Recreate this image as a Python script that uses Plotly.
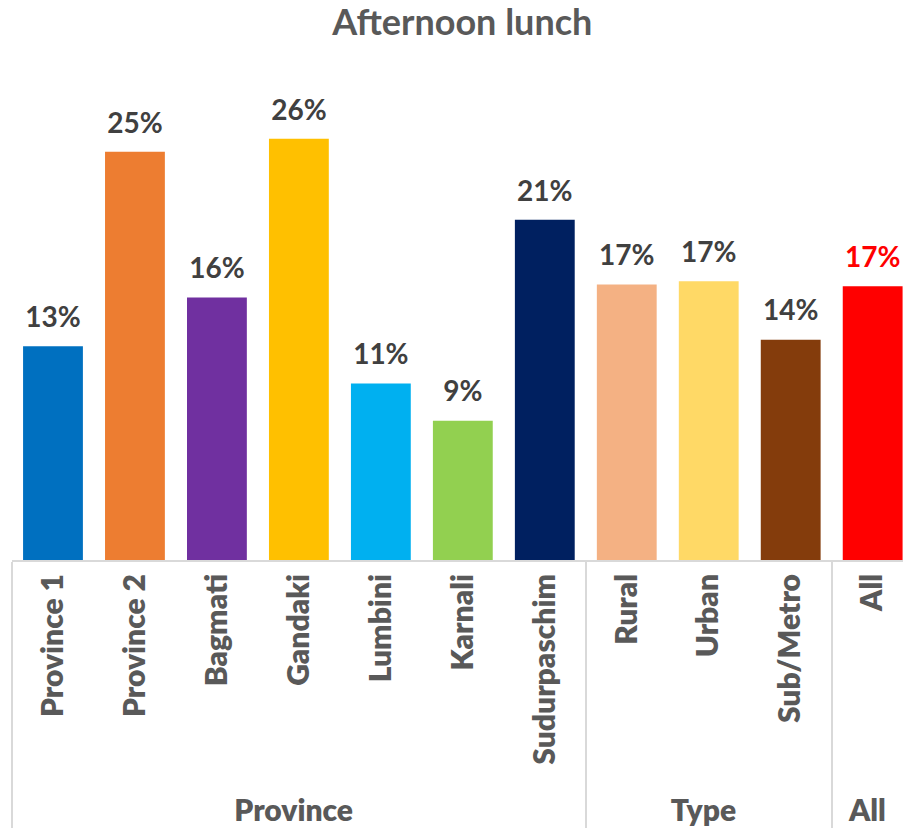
import plotly.graph_objects as go

# Share of respondents eating an afternoon lunch (%)
groups = ["Province"] * 7 + ["Type"] * 3 + ["All"]
categories = ["Province 1", "Province 2", "Bagmati", "Gandaki", "Lumbini",
              "Karnali", "Sudurpaschim", "Rural", "Urban", "Sub/Metro", "All"]
values = [13.2, 25.2, 16.2, 26.0, 10.9, 8.6, 21.0, 17.0, 17.2, 13.6, 16.9]
colors = ["#0070C0", "#ED7D31", "#7030A0", "#FFC000", "#00B0F0", "#92D050",
          "#002060", "#F4B183", "#FFD966", "#843C0C", "#FF0000"]
label_colors = ["#404040"] * 10 + ["#FF0000"]

FONT = "Lato"
GRAY = "#595959"

x = [groups, categories]

fig = go.Figure()

fig.add_trace(
    go.Bar(
        x=x,
        y=values,
        marker=dict(color=colors, line=dict(width=0)),
        width=0.73,
        hoverinfo="skip",
    )
)

# Value labels floated above each bar (invisible marker sets the gap)
fig.add_trace(
    go.Scatter(
        x=x,
        y=values,
        mode="markers+text",
        marker=dict(size=18, opacity=0),
        text=[f"{v:.0f}%" for v in values],
        textposition="top center",
        textfont=dict(family=FONT, size=28, color=label_colors, weight="bold"),
        cliponaxis=False,
        hoverinfo="skip",
    )
)

fig.update_layout(
    width=903,
    height=832,
    margin=dict(l=12, r=0, t=80, b=272),
    paper_bgcolor="white",
    plot_bgcolor="white",
    showlegend=False,
    title=dict(
        text="Afternoon lunch",
        font=dict(family=FONT, size=36, color=GRAY, weight="bold"),
        x=0.512, xanchor="center",
        y=1 - 22 / 832, yanchor="middle",
    ),
    xaxis=dict(
        type="multicategory",
        range=[-0.5, 10.37],
        tickangle=-90,
        tickfont=dict(family=FONT, size=30, color=GRAY, weight=800),
        showline=True,
        linecolor="#D9D9D9",
        linewidth=2,
        showdividers=True,
        dividercolor="#D9D9D9",
        dividerwidth=2,
        ticks="outside",
        ticklen=8,
        tickcolor="rgba(0,0,0,0)",
        showgrid=False,
    ),
    yaxis=dict(
        range=[0, 29.63],
        visible=False,
        showgrid=False,
        zeroline=False,
    ),
)

fig.write_html("out.html")
